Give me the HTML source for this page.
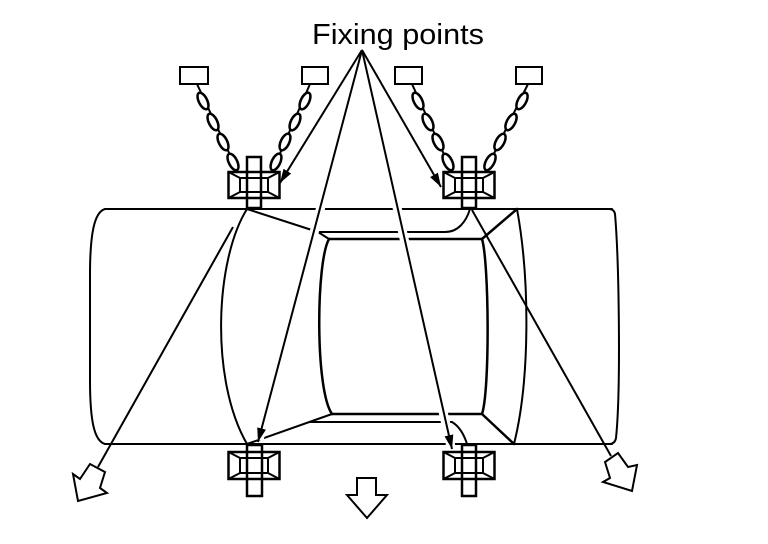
<!DOCTYPE html>
<html><head><meta charset="utf-8">
<style>html,body{margin:0;padding:0;background:#fff;}svg{display:block}</style>
</head>
<body>
<svg width="768" height="544" viewBox="0 0 768 544" xmlns="http://www.w3.org/2000/svg">
<defs>
<marker id="ah" markerUnits="userSpaceOnUse" markerWidth="16" markerHeight="10" refX="14" refY="4.5" orient="auto">
<path d="M0,0 L14,4.5 L0,9 z" fill="#000"/>
</marker>
</defs>
<rect width="768" height="544" fill="#fff"/>

<!-- Title -->
<text x="312" y="44" font-family="'Liberation Sans', Arial, sans-serif" font-size="29" textLength="172" lengthAdjust="spacingAndGlyphs" fill="#000">Fixing points</text>

<g fill="none" stroke="#000" stroke-width="2" stroke-linejoin="round" stroke-linecap="round">
<!-- car body outline -->
<path d="M105,209 L612,209"/>
<path d="M105,444 L612,444"/>
<path d="M105,209 C94,212 90,235 90,275 L90,380 C90,420 94,441 105,444"/>
<path d="M609,209 Q614,209 615,214 C619,260 621,390 616,438 Q615,444 609,444"/>
<!-- front / rear curves -->
<path d="M247,209 C215,260 210,380 247,444"/>
<path d="M517,209 C530,280 530,380 514,444"/>
<!-- windshield diagonals -->
<path d="M247,209 L318,232 L329,239"/>
<path d="M247,444 L332,414"/>
<!-- window frame lines -->
<path d="M318,232 L445,232 C458,232 466,222 470,209"/>
<path d="M329,239 L482,239 L517,209" stroke-width="2.5"/>
<path d="M332,414 L482,414 L514,444" stroke-width="2.5"/>
<path d="M310,422 L452,422 Q462,428 467,444"/>
<!-- window sides -->
<path d="M329,239 C316,262 315,390 332,414" stroke-width="2.5"/>
<path d="M482,239 C489,262 490,390 482,414" stroke-width="2.5"/>
</g>

<!-- arrow halos -->
<g stroke="#fff" stroke-width="9" fill="none" stroke-linecap="butt">
<line x1="362" y1="52" x2="282" y2="181"/>
<line x1="362" y1="52" x2="259" y2="440"/>
<line x1="362" y1="52" x2="451" y2="447"/>
<line x1="362" y1="52" x2="439" y2="185"/>
</g>

<!-- arrows to fixing points -->
<g stroke="#000" stroke-width="2" fill="none">
<line x1="362" y1="50" x2="280" y2="183" marker-end="url(#ah)"/>
<line x1="362" y1="50" x2="258" y2="442" marker-end="url(#ah)"/>
<line x1="362" y1="50" x2="452" y2="449" marker-end="url(#ah)"/>
<line x1="362" y1="50" x2="441" y2="187" marker-end="url(#ah)"/>
</g>

<!-- pull lines and hollow arrows -->
<g stroke="#000" stroke-width="2" fill="none" stroke-linejoin="miter">
<line x1="233" y1="227" x2="98" y2="467"/>
<line x1="472" y1="210" x2="611" y2="456"/>
</g>
<g stroke="#000" stroke-width="2" fill="#fff" stroke-linejoin="miter">
<polygon points="90,464 80,479 73,474 78,501 107,493 100,488 105,472"/>
<polygon points="605,462 610,478 603,482 632,491 637,465 628,467 618,453"/>
<polygon points="357,478 376,478 376,495 387,495 367,518 347,495 357,495"/>
</g>

<!-- anchor boxes -->
<g stroke="#000" stroke-width="2" fill="#fff">
<rect x="180" y="67" width="28" height="17"/>
<rect x="302" y="67" width="26" height="17"/>
<rect x="395" y="67" width="27" height="17"/>
<rect x="516" y="67" width="26" height="17"/>
</g>

<!-- chains -->
<g stroke="#000" stroke-width="2.5" fill="#fff">
<line x1="197" y1="84" x2="238" y2="172" stroke-width="2"/>
<ellipse rx="9" ry="4.2" transform="translate(203,101) rotate(63.8)"/>
<ellipse rx="9" ry="4.2" transform="translate(213,122) rotate(63.8)"/>
<ellipse rx="9" ry="4.2" transform="translate(223,142) rotate(63.8)"/>
<ellipse rx="9" ry="4.2" transform="translate(233,162) rotate(63.8)"/>

<line x1="310" y1="84" x2="272" y2="172" stroke-width="2"/>
<ellipse rx="9" ry="4.2" transform="translate(305,101) rotate(115.5)"/>
<ellipse rx="9" ry="4.2" transform="translate(295,122) rotate(115.5)"/>
<ellipse rx="9" ry="4.2" transform="translate(285,142) rotate(115.5)"/>
<ellipse rx="9" ry="4.2" transform="translate(276,162) rotate(115.5)"/>

<line x1="412" y1="84" x2="452" y2="172" stroke-width="2"/>
<ellipse rx="9" ry="4.2" transform="translate(418,101) rotate(63.8)"/>
<ellipse rx="9" ry="4.2" transform="translate(428,122) rotate(63.8)"/>
<ellipse rx="9" ry="4.2" transform="translate(438,142) rotate(63.8)"/>
<ellipse rx="9" ry="4.2" transform="translate(448,162) rotate(63.8)"/>

<line x1="528" y1="84" x2="485" y2="172" stroke-width="2"/>
<ellipse rx="9" ry="4.2" transform="translate(522,101) rotate(117.8)"/>
<ellipse rx="9" ry="4.2" transform="translate(511,122) rotate(117.8)"/>
<ellipse rx="9" ry="4.2" transform="translate(500,142) rotate(117.8)"/>
<ellipse rx="9" ry="4.2" transform="translate(490,162) rotate(117.8)"/>
</g>

<!-- brackets -->
<g stroke="#000" fill="none" stroke-width="2">
<!-- top-left -->
<rect x="228.5" y="172" width="51" height="26" stroke-width="2.5" fill="#fff"/>
<rect x="240" y="178" width="28" height="14"/>
<path d="M228.5,172 L240,178 M279.5,172 L268,178 M228.5,198 L240,192 M279.5,198 L268,192"/>
<rect x="247" y="157" width="14" height="51" stroke-width="2.5"/>
<!-- top-right -->
<rect x="443.5" y="172" width="51" height="26" stroke-width="2.5" fill="#fff"/>
<rect x="455" y="178" width="28" height="14"/>
<path d="M443.5,172 L455,178 M494.5,172 L483,178 M443.5,198 L455,192 M494.5,198 L483,192"/>
<rect x="462" y="157" width="14" height="51" stroke-width="2.5"/>
<!-- bottom-left -->
<rect x="228.5" y="452" width="51" height="27" stroke-width="2.5" fill="#fff"/>
<rect x="240" y="458" width="28" height="15"/>
<path d="M228.5,452 L240,458 M279.5,452 L268,458 M228.5,479 L240,473 M279.5,479 L268,473"/>
<rect x="247" y="445" width="15" height="51" stroke-width="2.5"/>
<!-- bottom-right -->
<rect x="443.5" y="452" width="51" height="27" stroke-width="2.5" fill="#fff"/>
<rect x="455" y="458" width="28" height="15"/>
<path d="M443.5,452 L455,458 M494.5,452 L483,458 M443.5,479 L455,473 M494.5,479 L483,473"/>
<rect x="462" y="445" width="14" height="51" stroke-width="2.5"/>
</g>
</svg>
</body></html>
